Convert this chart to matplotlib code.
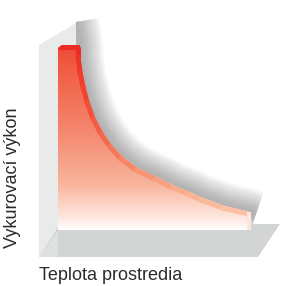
import numpy as np
import matplotlib
matplotlib.use("Agg")
import matplotlib.pyplot as plt
from matplotlib.patches import Polygon
from matplotlib.collections import LineCollection
from matplotlib.colors import LinearSegmentedColormap

# ----- data (pixel units) -----
curve_x = [80, 80, 82, 85, 89, 95, 103, 112, 123, 138, 157, 175, 190, 203, 225, 250]
curve_y = [46, 55, 70, 85, 100, 117, 132, 145, 157, 168, 177, 186, 192, 198, 206, 212]
y_label = "Vykurovací výkon"
x_label = "Teplota prostredia"

W, H = 291, 286
fig = plt.figure(figsize=(W / 100, H / 100), dpi=100)
ax = fig.add_axes([0, 0, 1, 1])
ax.set_xlim(0, W)
ax.set_ylim(H, 0)
ax.axis("off")

# back wall
wall = Polygon([(39, 45), (76, 23), (76, 230), (39, 257)], closed=True,
               fc="#e9eaea", ec="none", zorder=1)
ax.add_patch(wall)

# soft shadow outside the wall edge / curve, clipped to the outer side
outer = Polygon([(76, 0), (W, 0), (W, 226), (252, 226)]
                + list(zip(curve_x[::-1], curve_y[::-1])) + [(76, 46)],
                closed=True, fc="none", ec="none")
ax.add_patch(outer)
sx = np.array([76] + curve_x + [256], dtype=float)
sy = np.array([22] + curve_y + [214], dtype=float)
for lw in np.linspace(34, 2, 26):
    ln, = ax.plot(sx, sy, color="#7a7a7a", lw=lw, alpha=0.026,
                  solid_capstyle="butt", solid_joinstyle="round", zorder=2)
    ln.set_clip_path(outer)

# floor
floor = Polygon([(39, 257), (60, 224), (280, 224), (258, 257)], closed=True,
                fc="#d3d4d4", ec="none", zorder=3)
ax.add_patch(floor)
ax.add_patch(Polygon([(39, 257), (58, 231), (58, 257)], closed=True,
                     fc="#dfe0e0", ec="none", zorder=3))

# gradient filled area under the curve
fill_pts = [(58, 48), (62, 45)] + list(zip(curve_x, curve_y)) + [(250, 230), (58, 230)]
clip = Polygon(fill_pts, closed=True, fc="none", ec="none", zorder=4)
ax.add_patch(clip)
grad = LinearSegmentedColormap.from_list(
    "heat", [(0.0, "#ee4a34"), (0.1, "#f05a40"), (0.43, "#f4836a"),
             (0.75, "#f8b59c"), (0.93, "#fde8e0"), (1.0, "#ffffff")])
g = np.linspace(0, 1, 256).reshape(-1, 1)
im = ax.imshow(g, cmap=grad, extent=[58, 250, 231, 45], aspect="auto",
               zorder=4, interpolation="bilinear")
im.set_clip_path(clip)
ax.set_xlim(0, W)
ax.set_ylim(H, 0)

# top cap of the curve
ax.add_patch(Polygon([(58, 48), (62, 45), (80, 45), (80, 50), (58, 50)],
                     closed=True, fc="#ec2b26", ec="none", zorder=5))

# gradient stroke along the curve
px = np.array(curve_x, dtype=float) - 2
py = np.array(curve_y, dtype=float) + 2
segs = [[(px[i], py[i]), (px[i + 1], py[i + 1])] for i in range(len(px) - 1)]
stroke = LinearSegmentedColormap.from_list(
    "stroke", ["#ec2b26", "#ef4a32", "#f4795a", "#f9a888", "#fcc0a4"])
lc = LineCollection(segs, cmap=stroke, linewidths=3.6, zorder=5,
                    capstyle="round", joinstyle="round")
lc.set_array(np.linspace(0, 1, len(segs)))
ax.add_collection(lc)

# end face of the curve
ax.add_patch(Polygon([(247, 212), (251, 212), (251, 230), (247, 230)],
                     closed=True, fc="#fde6dc", ec="none", zorder=5))

ax.text(13, 178, y_label, rotation=90, ha="center", va="center",
        fontsize=13, family="Liberation Sans", color="#2b2b2b")
ax.text(39, 276, x_label, ha="left", va="center",
        fontsize=13, family="Liberation Sans", color="#2b2b2b")

fig.savefig("out.png", dpi=100)
